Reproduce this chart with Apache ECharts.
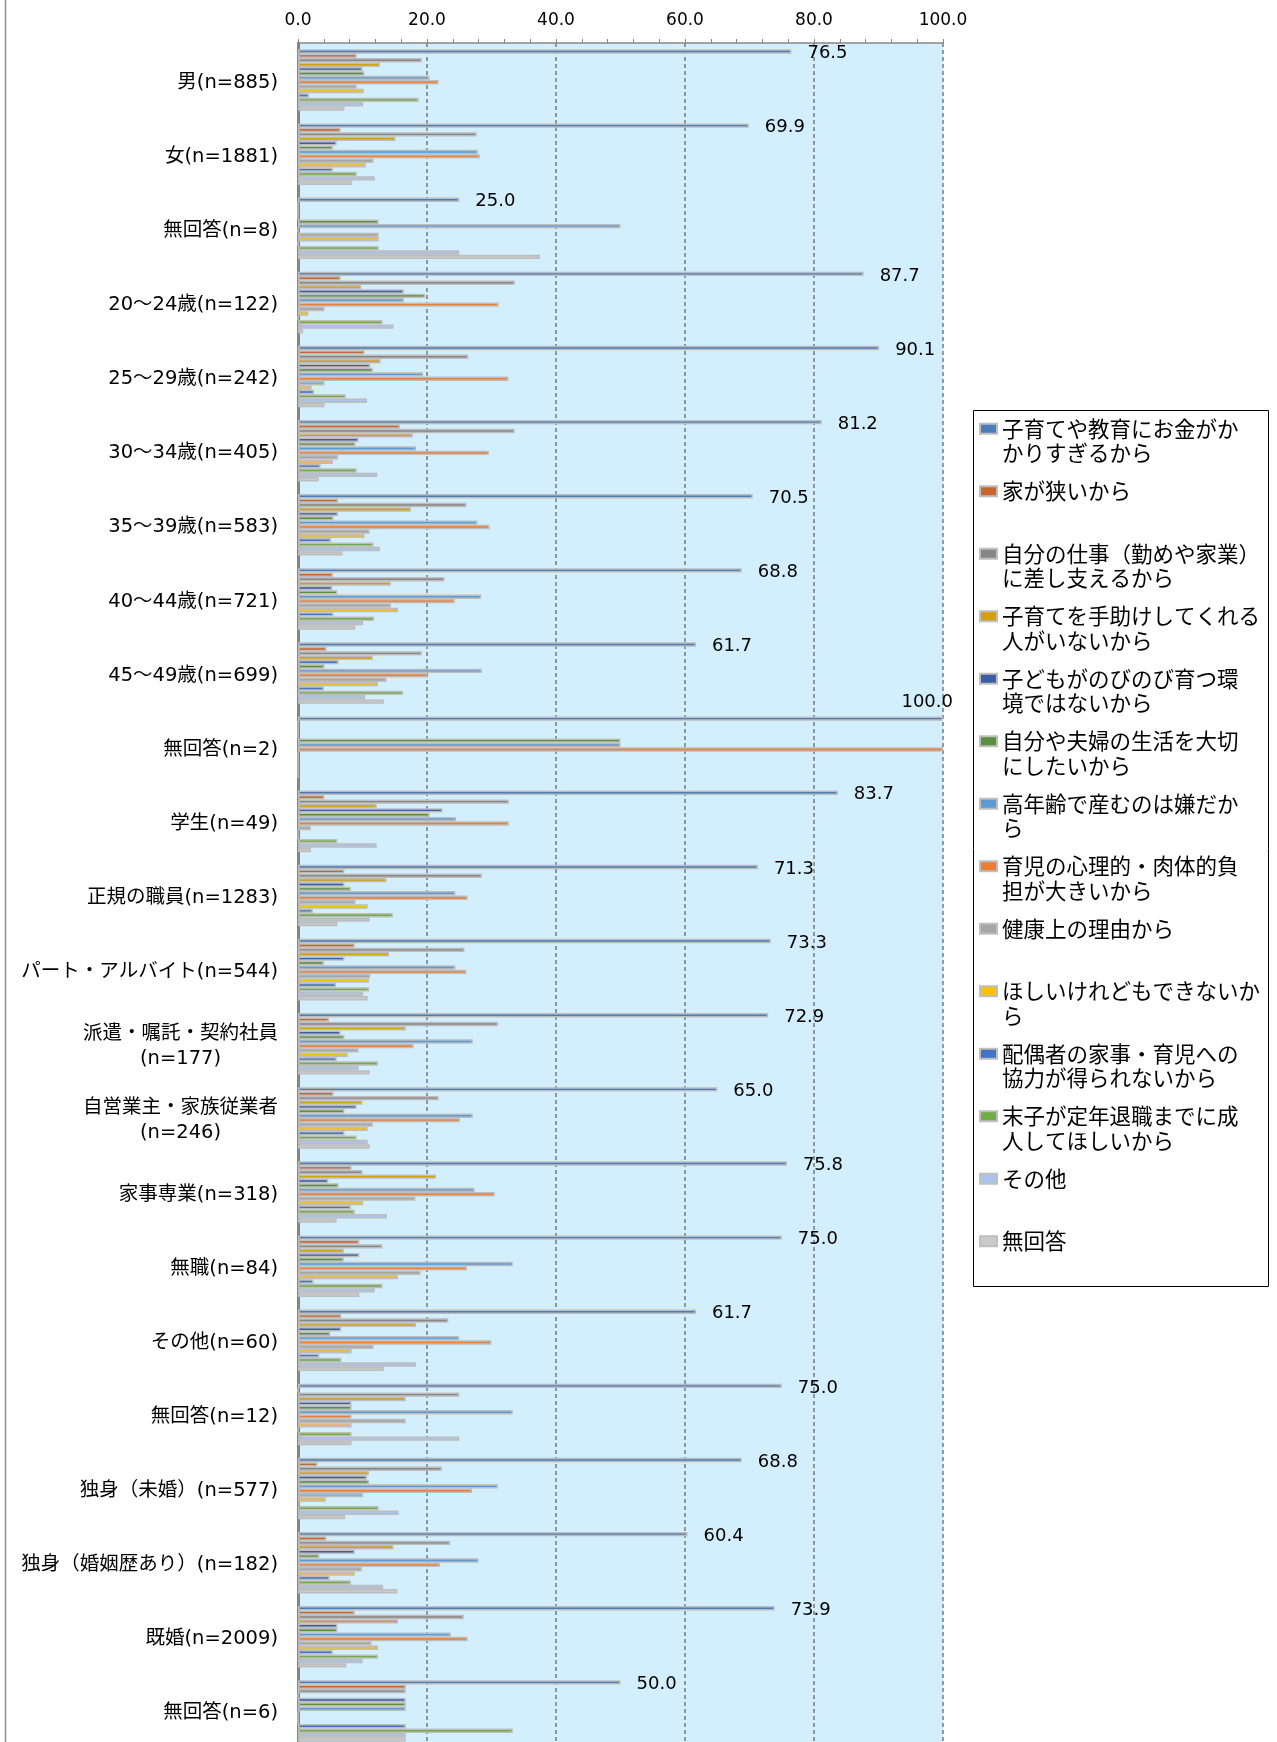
<!DOCTYPE html>
<html>
<head>
<meta charset="utf-8">
<script src="https://cdn.jsdelivr.net/npm/echarts@6/dist/echarts.min.js"></script>
<style>
html,body{margin:0;padding:0;background:#fff;}
#c{width:1277px;height:1742px;}
</style>
</head>
<body>
<div id="c"></div>
<script>
// ---- categories (top to bottom) ----
const categories = [
  '男(n=885)','女(n=1881)','無回答(n=8)',
  '20～24歳(n=122)','25～29歳(n=242)','30～34歳(n=405)','35～39歳(n=583)',
  '40～44歳(n=721)','45～49歳(n=699)','無回答(n=2)',
  '学生(n=49)','正規の職員(n=1283)','パート・アルバイト(n=544)',
  '派遣・嘱託・契約社員\n(n=177)','自営業主・家族従業者\n(n=246)',
  '家事専業(n=318)','無職(n=84)','その他(n=60)','無回答(n=12)',
  '独身（未婚）(n=577)','独身（婚姻歴あり）(n=182)','既婚(n=2009)','無回答(n=6)'
];

// ---- series names (legend order) ----
const seriesNames = [
  '子育てや教育にお金がかかりすぎるから',
  '家が狭いから',
  '自分の仕事（勤めや家業）に差し支えるから',
  '子育てを手助けしてくれる人がいないから',
  '子どもがのびのび育つ環境ではないから',
  '自分や夫婦の生活を大切にしたいから',
  '高年齢で産むのは嫌だから',
  '育児の心理的・肉体的負担が大きいから',
  '健康上の理由から',
  'ほしいけれどもできないから',
  '配偶者の家事・育児への協力が得られないから',
  '末子が定年退職までに成人してほしいから',
  'その他',
  '無回答'
];
// legend wrapping as in the picture
const legendLines = [
  ['子育てや教育にお金がか','かりすぎるから'],
  ['家が狭いから'],
  ['自分の仕事（勤めや家業）','に差し支えるから'],
  ['子育てを手助けしてくれる','人がいないから'],
  ['子どもがのびのび育つ環','境ではないから'],
  ['自分や夫婦の生活を大切','にしたいから'],
  ['高年齢で産むのは嫌だか','ら'],
  ['育児の心理的・肉体的負','担が大きいから'],
  ['健康上の理由から'],
  ['ほしいけれどもできないか','ら'],
  ['配偶者の家事・育児への','協力が得られないから'],
  ['末子が定年退職までに成','人してほしいから'],
  ['その他'],
  ['無回答']
];

// ---- values (%), one array per reason, in category order ----
const costTooHigh   = [76.5,69.9,25.0,87.7,90.1,81.2,70.5,68.8,61.7,100.0,83.7,71.3,73.3,72.9,65.0,75.8,75.0,61.7,75.0,68.8,60.4,73.9,50.0];
const houseSmall    = [9.1,6.6,0,6.6,10.3,15.8,6.2,5.4,4.4,0,4.1,7.2,8.8,4.8,5.5,8.3,9.5,6.7,0,3.0,4.4,8.8,16.7];
const ownWork       = [19.2,27.7,0,33.6,26.4,33.6,26.1,22.7,19.2,0,32.7,28.5,25.8,31.0,21.8,10.0,13.1,23.3,25.0,22.3,23.6,25.7,16.7];
const noHelper      = [12.7,15.1,0,9.8,12.8,17.8,17.5,14.4,11.6,0,12.2,13.7,14.1,16.7,10.0,21.4,7.1,18.3,16.7,11.0,14.8,15.5,0];
const environment   = [10.0,6.0,0,16.4,11.2,9.4,6.2,5.3,6.3,0,22.4,7.2,7.2,6.6,9.1,4.7,9.5,6.7,8.3,10.7,8.8,6.1,16.7];
const ownLife       = [10.3,5.4,12.5,19.7,11.6,8.9,5.5,6.1,4.1,50.0,20.4,8.2,4.0,7.2,7.2,6.3,7.1,5.0,8.3,11.0,3.3,6.1,16.7];
const olderAge      = [20.4,27.9,50.0,16.4,19.4,18.3,27.8,28.4,28.5,50.0,24.5,24.4,24.4,27.1,27.1,27.4,33.3,25.0,33.3,31.0,28.0,23.7,16.7];
const burden        = [21.8,28.2,0,31.1,32.6,29.6,29.7,24.3,20.0,100.0,32.7,26.3,26.1,17.9,25.1,30.5,26.2,30.0,8.3,27.0,22.0,26.3,0];
const health        = [9.1,11.7,12.5,4.1,4.1,6.2,11.1,14.4,13.7,0,2.0,8.9,11.2,9.4,11.6,18.2,19.0,11.7,16.7,10.1,9.9,11.4,0];
const cannotHave    = [10.2,10.5,12.5,1.6,2.1,5.4,10.3,15.5,12.4,0,0,10.8,11.0,7.7,10.8,10.1,15.5,8.3,8.3,4.3,8.8,12.4,0];
const noSpouseHelp  = [1.7,5.4,0,0,2.5,3.5,5.1,5.5,4.0,0,0,2.3,5.9,6.0,7.2,8.2,2.4,3.3,0,0.2,4.9,5.4,16.7];
const beforeRetire  = [18.7,9.1,12.5,13.1,7.4,9.1,11.7,11.8,16.3,0,6.1,14.7,11.0,12.4,9.1,8.8,13.1,6.7,8.3,12.5,8.2,12.4,33.3];
const other         = [10.1,11.9,25.0,14.8,10.7,12.3,12.7,10.1,10.4,0,12.2,11.1,10.1,9.4,10.8,13.8,11.9,18.3,25.0,15.6,13.2,10.0,16.7];
const noAnswer      = [7.2,8.4,37.5,0.8,4.1,3.2,6.9,8.9,13.3,0,2.0,6.1,10.8,11.1,11.1,6.0,9.5,13.3,8.3,7.3,15.4,7.5,16.7];

const seriesValues = [costTooHigh,houseSmall,ownWork,noHelper,environment,ownLife,olderAge,burden,health,cannotHave,noSpouseHelp,beforeRetire,other,noAnswer];

const seriesColors = ['#4A7EBB','#C8652D','#878787','#D6A000','#3B5EA6','#5A8F3C','#5B9BD5','#ED7D31','#A5A5A5','#FFC000','#4472C4','#70AD47','#A9C5EB','#CACACA'];

// ---- x axis ----
const xMin = 0, xMax = 100, xStep = 20;

const JP = "'Noto Sans CJK JP'";
const MIX = "'DejaVu Sans','Noto Sans CJK JP'";

const chart = echarts.init(document.getElementById('c'), null, {renderer: 'canvas'});

const series = seriesNames.map((name, i) => {
  const s = {
    name: name,
    type: 'bar',
    barCategoryGap: '17%',
    barGap: '0%',
    itemStyle: {color: seriesColors[i], borderColor: '#BDBDBD', borderWidth: 1.5},
    emphasis: {disabled: true},
    data: seriesValues[i].map(v => v)
  };
  if (i === 0) {
    s.label = {
      show: true, position: 'right', distance: 16, offset: [0, 2],
      fontSize: 18, fontFamily: 'DejaVu Sans', color: '#000',
      formatter: p => Number(p.value).toFixed(1)
    };
    s.data = seriesValues[i].map(v => v >= xMax ? {
      value: v,
      label: {position: ['100%', 0], align: 'right', verticalAlign: 'bottom', offset: [10, -5]}
    } : v);
  }
  return s;
});

const option = {
  animation: false,
  backgroundColor: '#ffffff',
  grid: {
    left: 298, top: 43, width: 645, height: 1705,
    show: true, backgroundColor: '#D3EEFC', borderWidth: 0,
    outerBoundsMode: 'none', containLabel: false
  },
  xAxis: {
    type: 'value', position: 'top',
    min: xMin, max: xMax, interval: xStep,
    axisLine: {show: true, lineStyle: {color: '#868686', width: 1.5}},
    axisTick: {show: true, length: 4, lineStyle: {color: '#868686'}},
    minorTick: {show: true, splitNumber: 5, length: 4, lineStyle: {color: '#868686'}},
    splitLine: {show: true, lineStyle: {color: '#7A7A7A', width: 1.5, type: [4, 3]}},
    minorSplitLine: {show: false},
    axisLabel: {
      margin: 14, fontSize: 17, fontFamily: 'DejaVu Sans', color: '#000',
      formatter: v => Number(v).toFixed(1)
    }
  },
  yAxis: {
    type: 'category', inverse: true, data: categories,
    axisLine: {show: true, lineStyle: {color: '#858585', width: 3}},
    axisTick: {show: false},
    splitLine: {show: false},
    axisLabel: {
      interval: 0, margin: 20, color: '#000', align: 'right',
      padding: [5, 0, 0, 0],
      formatter: v => {
        const p = v.split('\n');
        if (p.length > 1) return '{a|' + p[0] + '}\n{b|' + p[1] + '}';
        return '{a|' + v + '}';
      },
      rich: {
        a: {fontSize: 19.5, fontFamily: MIX, color: '#000', lineHeight: 25},
        b: {fontSize: 19.5, fontFamily: MIX, color: '#000', lineHeight: 25, align: 'center'}
      }
    }
  },
  legend: {
    show: true, orient: 'vertical', left: 979, top: 392,
    padding: 0, itemGap: -11, itemWidth: 17, itemHeight: 10,
    icon: 'rect', selectedMode: false,
    itemStyle: {borderColor: '#BFBFBF', borderWidth: 2},
    data: seriesNames,
    formatter: name => {
      const lines = legendLines[seriesNames.indexOf(name)];
      return '\n' + lines[0] + '\n' + (lines[1] || ' ');
    },
    textStyle: {fontSize: 21.5, lineHeight: 24.5, fontFamily: JP, color: '#000'}
  },
  graphic: [
    {type: 'rect', shape: {x: 973.5, y: 410.5, width: 295, height: 876}, style: {fill: 'none', stroke: '#000', lineWidth: 1}, silent: true},
    {type: 'line', shape: {x1: 5.5, y1: 0, x2: 5.5, y2: 1742}, style: {stroke: '#8C8C8C', lineWidth: 1.5}, silent: true}
  ],
  series: series
};

chart.setOption(option);
</script>
</body>
</html>
